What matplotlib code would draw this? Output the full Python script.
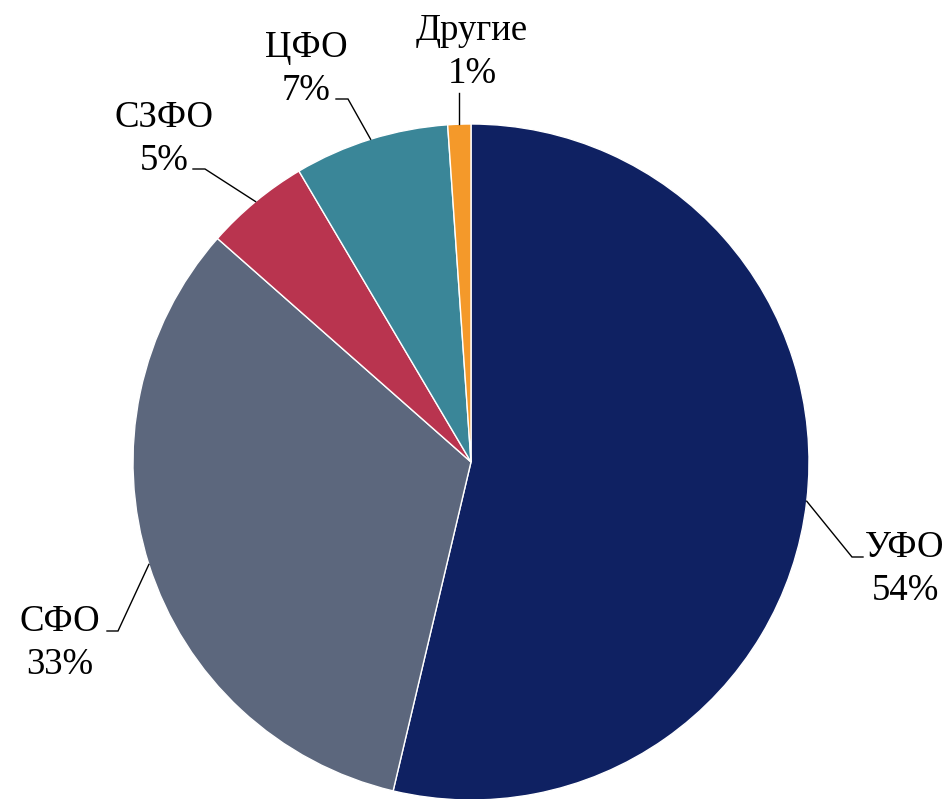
import matplotlib
matplotlib.use("Agg")
import matplotlib.pyplot as plt
import numpy as np

# ---- data ----
categories = ["УФО", "СФО", "СЗФО", "ЦФО", "Другие"]
values = [53.7, 32.8, 5.0, 7.4, 1.1]
colors = ["#0F2162", "#5C677D", "#B9344F", "#3A8698", "#F4992A"]

# ---- layout (pixels) ----
W, H = 950, 799
CX, CY, R = 471, 462, 338
# first-line baseline of each label (px), elbow point, leader end
label_pos = {
    "УФО": (905, 557),
    "СФО": (60, 631),
    "СЗФО": (164, 127),
    "ЦФО": (306, 57),
    "Другие": (472, 40),
}
elbows = {
    "УФО": [(852, 557), (863, 557)],
    "СФО": [(118, 631), (107, 631)],
    "СЗФО": [(205, 169), (193, 169)],
    "ЦФО": [(348, 99), (336, 99)],
    "Другие": [None, None],
}
line_gap = 43
LEADER_TOP_OTHER = 93
FS = 26.5


def to_data(px, py):
    return (px - CX) / R, (CY - py) / R


plt.rcParams['font.family'] = ['Liberation Serif', 'DejaVu Serif']
fig = plt.figure(figsize=(W / 100, H / 100), dpi=100)
ax = fig.add_axes([0, 0, 1, 1])

wedges, _ = ax.pie(values, colors=colors, startangle=90, counterclock=False,
                   radius=1, center=(0, 0),
                   wedgeprops=dict(edgecolor="white", linewidth=1.0))
ax.set_aspect('auto')
ax.set_xlim((0 - CX) / R, (W - CX) / R)
ax.set_ylim((CY - H) / R, (CY - 0) / R)
ax.axis('off')

for w, cat, v in zip(wedges, categories, values):
    ang = np.deg2rad((w.theta1 + w.theta2) / 2)
    sx, sy = np.cos(ang), np.sin(ang)
    e1, e2 = elbows[cat]
    if e1 is None:
        ey = (CY - LEADER_TOP_OTHER) / R
        ax.plot([sx, sx], [sy, ey], color="black", lw=1.0)
    else:
        x1, y1 = to_data(*e1)
        x2, y2 = to_data(*e2)
        ax.plot([sx, x1, x2], [sy, y1, y2], color="black", lw=1.0,
                solid_joinstyle='miter')
    lx, ly = label_pos[cat]
    tx, ty = to_data(lx, ly)
    ax.text(tx, ty, cat, ha="center", va="baseline", fontsize=FS, color="black")
    tx2, ty2 = to_data(lx, ly + line_gap)
    ax.text(tx2, ty2, f"{round(v)}%", ha="center", va="baseline", fontsize=FS,
            color="black")

fig.savefig("out.png", dpi=100)
